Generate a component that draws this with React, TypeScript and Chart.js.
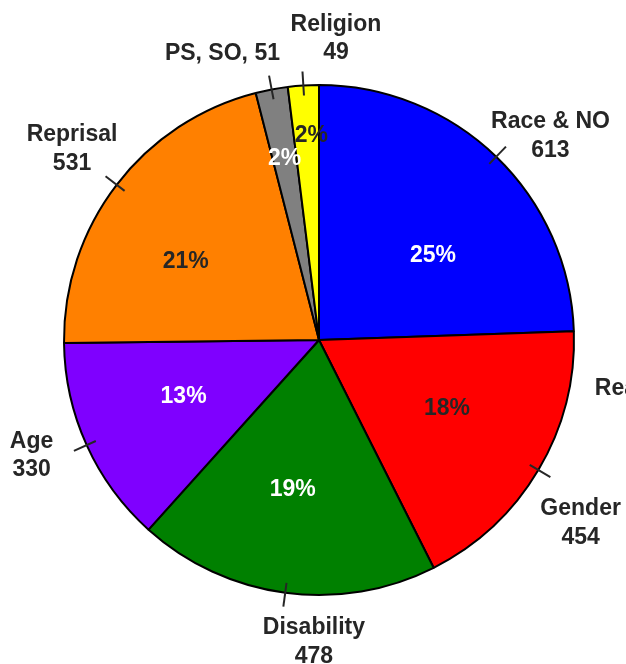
import React, { useEffect, useRef } from "react";
import { Chart, registerables } from "chart.js";

Chart.register(...registerables);

const CATEGORIES = ["Race & NO", "Reasonable Accommodation", "Gender", "Disability", "Age", "Reprisal", "PS, SO", "Religion"];
const VALUES = [613, 0, 454, 478, 330, 531, 51, 49];
const COLORS = ["#0000FF", "#0000FF", "#FF0000", "#008000", "#7F00FF", "#FF8000", "#808080", "#FFFF00"];
const PCT_COLORS = ["#FFFFFF", "#FFFFFF", "#262626", "#FFFFFF", "#FFFFFF", "#262626", "#FFFFFF", "#262626"];

// label layout tweaks (relative offsets from the computed anchor)
const LABEL_NUDGE: [number, number][] = [[16, 19], [-34, 73], [-5, 25], [36, -5], [-5, -12], [-1, -2], [-39, 18], [36, 8]];
const LABEL_START_ALIGNED = [false, true, false, false, false, false, false, false];
const LABEL_INLINE = [false, false, false, false, false, false, true, false];
const PCT_RADIUS = [0.57, 0.57, 0.57, 0.57, 0.57, 0.57, 0.725, 0.804];
const PCT_NUDGE: [number, number][] = [[13, 20], [0, 0], [3, -5], [-7, 6], [-3, -3], [-18, 10], [0, 0], [5, 0]];

const FONT = "bold 23px 'Liberation Sans', Arial, sans-serif";
const TEXT_COLOR = "#262626";
const LINE_GAP = 28.5;

function roundedPercents(vals: number[]): number[] {
  const total = vals.reduce((a, b) => a + b, 0);
  const raw = vals.map((v) => (v / total) * 100);
  const fl = raw.map((r) => Math.floor(r));
  let rest = 100 - fl.reduce((a, b) => a + b, 0);
  const order = raw.map((r, i) => ({ i, rem: r - Math.floor(r) })).sort((a, b) => b.rem - a.rem);
  for (let k = 0; k < order.length && rest > 0; k++) {
    if (vals[order[k].i] > 0) {
      fl[order[k].i] += 1;
      rest--;
    }
  }
  return fl;
}

const labelPlugin = {
  id: "pieLabels",
  afterDatasetsDraw(chart: any) {
    const ctx = chart.ctx as CanvasRenderingContext2D;
    const meta = chart.getDatasetMeta(0);
    const pcts = roundedPercents(VALUES);
    ctx.save();
    ctx.font = FONT;
    ctx.textAlign = "center";
    ctx.textBaseline = "middle";
    meta.data.forEach((arc: any, i: number) => {
      const { x, y, startAngle, endAngle, outerRadius } = arc.getProps(["x", "y", "startAngle", "endAngle", "outerRadius"], true);
      const mid = (startAngle + endAngle) / 2;
      const cos = Math.cos(mid);
      const sin = Math.sin(mid);
      const R = outerRadius;
      const v = VALUES[i];
      if (v > 0) {
        // tick mark crossing the border
        ctx.strokeStyle = TEXT_COLOR;
        ctx.lineWidth = 2;
        ctx.beginPath();
        ctx.moveTo(x + (R - 10) * cos, y + (R - 10) * sin);
        ctx.lineTo(x + (R + 14) * cos, y + (R + 14) * sin);
        ctx.stroke();
        // percentage
        const pr = R * PCT_RADIUS[i];
        ctx.fillStyle = PCT_COLORS[i];
        ctx.fillText(pcts[i] + "%", x + pr * cos + PCT_NUDGE[i][0], y + pr * sin + PCT_NUDGE[i][1]);
      }
      // outside label
      const lr = R + 55;
      let lx = x + lr * cos + LABEL_NUDGE[i][0];
      const ly = y + lr * sin + LABEL_NUDGE[i][1];
      ctx.fillStyle = TEXT_COLOR;
      if (LABEL_INLINE[i]) {
        ctx.fillText(CATEGORIES[i] + ", " + v, lx, ly);
      } else {
        if (LABEL_START_ALIGNED[i]) lx += ctx.measureText(CATEGORIES[i]).width / 2;
        ctx.fillText(CATEGORIES[i], lx, ly - LINE_GAP / 2);
        ctx.fillText(String(v), lx, ly + LINE_GAP / 2);
      }
    });
    ctx.restore();
  },
};

export default function App() {
  const canvasRef = useRef<HTMLCanvasElement | null>(null);
  useEffect(() => {
    if (!canvasRef.current) return;
    const chart = new Chart(canvasRef.current, {
      type: "pie",
      data: {
        labels: CATEGORIES,
        datasets: [
          {
            data: VALUES,
            backgroundColor: COLORS,
            borderColor: "#000000",
            borderWidth: 2,
          },
        ],
      },
      options: {
        responsive: false,
        animation: false,
        layout: { padding: { left: 63, right: 51, top: 84, bottom: 68 } },
        plugins: { legend: { display: false }, tooltip: { enabled: false } },
      },
      plugins: [labelPlugin],
    });
    return () => chart.destroy();
  }, []);
  return (
    <div style={{ position: "absolute", left: 0, top: 0, width: 626, height: 664, background: "#fff" }}>
      <canvas ref={canvasRef} width={626} height={664} style={{ display: "block" }} />
    </div>
  );
}
